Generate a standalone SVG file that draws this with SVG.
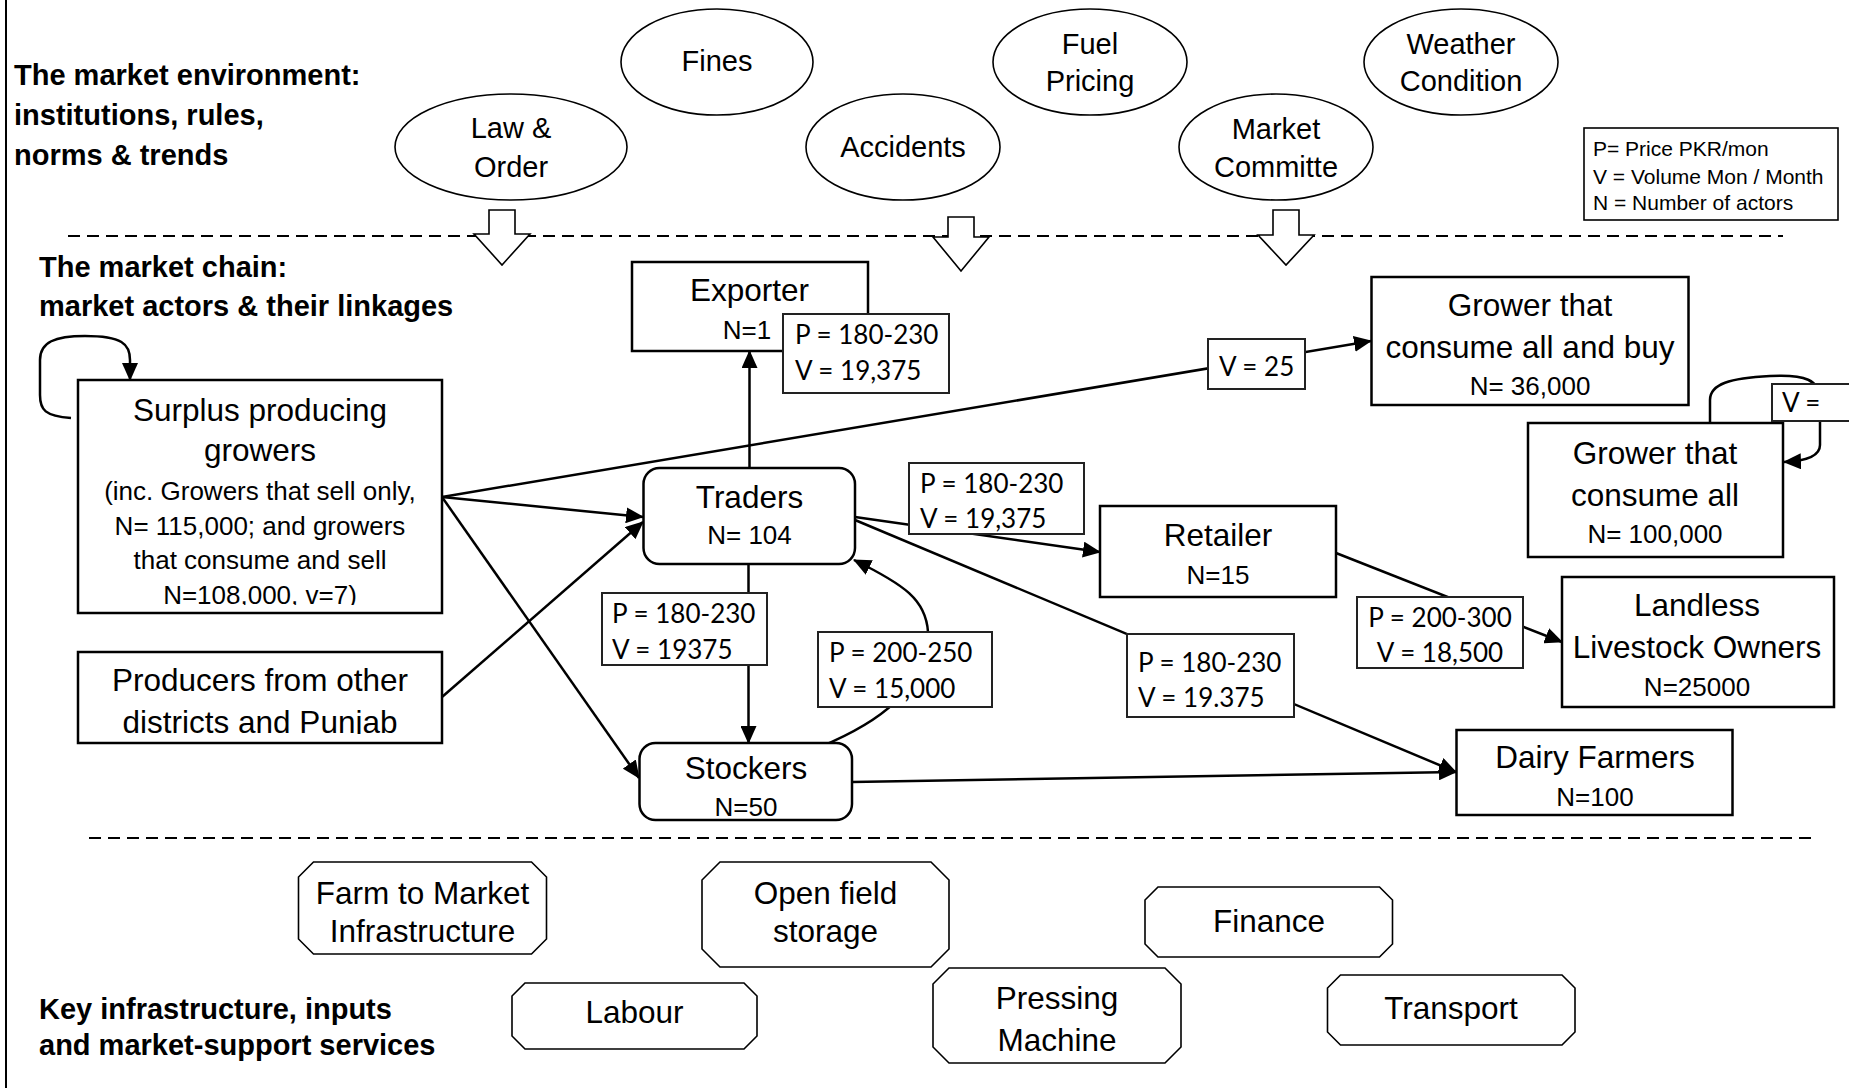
<svg xmlns="http://www.w3.org/2000/svg" width="1849" height="1088" viewBox="0 0 1849 1088">
<style>
text{font-family:"Liberation Sans",Arial,sans-serif;fill:#000}
.hd{font-weight:bold;font-size:29px}
.el{font-size:29px;text-anchor:middle}
.nm{font-size:31.5px;text-anchor:middle}
.ns{font-size:26px;text-anchor:middle}
.lb{font-family:Lato,"Liberation Sans",sans-serif;font-size:26px}
.lg{font-size:21px}
.sv{font-size:31.5px;text-anchor:middle}
.box{fill:#fff;stroke:#000;stroke-width:2.5}
.lab{fill:#fff;stroke:#222;stroke-width:2}
.ell{fill:#fff;stroke:#000;stroke-width:1.6}
.oct{fill:#fff;stroke:#000;stroke-width:1.6}
.blk{fill:#fff;stroke:#000;stroke-width:1.6}
.dash{stroke:#000;stroke-width:2;stroke-dasharray:12 7;fill:none}
.con{stroke:#000;stroke-width:2.5;fill:none;marker-end:url(#ah)}
.lin{stroke:#000;stroke-width:2.5;fill:none}
</style>
<defs>
<marker id="ah" markerUnits="userSpaceOnUse" markerWidth="18" markerHeight="16" refX="17" refY="8" orient="auto" viewBox="0 0 18 16"><path d="M0,0 L18,8 L0,16 z" fill="#000"/></marker>
<clipPath id="cS"><rect x="78" y="380" width="364" height="225"/></clipPath>
<clipPath id="cP"><rect x="78" y="652" width="364" height="82"/></clipPath>
</defs>
<rect x="0" y="0" width="1849" height="1088" fill="#fff"/>
<line x1="6" y1="0" x2="6" y2="1088" stroke="#000" stroke-width="2"/>

<g id="headings">
<text class="hd" x="14" y="85">The market environment:</text>
<text class="hd" x="14" y="125">institutions, rules,</text>
<text class="hd" x="14" y="165">norms &amp; trends</text>
<text class="hd" x="39" y="277">The market chain:</text>
<text class="hd" x="39" y="316">market actors &amp; their linkages</text>
<text class="hd" x="39" y="1019">Key infrastructure, inputs</text>
<text class="hd" x="39" y="1055">and market-support services</text>
</g>

<g id="dividers">
<line class="dash" x1="68" y1="236" x2="1783" y2="236"/>
<line class="dash" x1="89" y1="838" x2="1815" y2="838"/>
</g>

<g id="env">
<g id="law"><ellipse class="ell" cx="511" cy="147" rx="116" ry="53"/><text class="el" x="511" y="138">Law &amp;</text><text class="el" x="511" y="177">Order</text></g>
<g id="fines"><ellipse class="ell" cx="717" cy="62" rx="96" ry="53"/><text class="el" x="717" y="71">Fines</text></g>
<g id="accidents"><ellipse class="ell" cx="903" cy="147" rx="97" ry="53"/><text class="el" x="903" y="157">Accidents</text></g>
<g id="fuel"><ellipse class="ell" cx="1090" cy="62" rx="97" ry="53"/><text class="el" x="1090" y="54">Fuel</text><text class="el" x="1090" y="91">Pricing</text></g>
<g id="committe"><ellipse class="ell" cx="1276" cy="147" rx="97" ry="53"/><text class="el" x="1276" y="139">Market</text><text class="el" x="1276" y="177">Committe</text></g>
<g id="weather"><ellipse class="ell" cx="1461" cy="62" rx="97" ry="53"/><text class="el" x="1461" y="54">Weather</text><text class="el" x="1461" y="91">Condition</text></g>
</g>

<g id="influence-arrows">
<polygon class="blk" points="489,210 515,210 515,234 530,234 502,265 474,234 489,234"/>
<polygon class="blk" points="948,217 974,217 974,237 989,237 961,271 933,237 948,237"/>
<polygon class="blk" points="1273,210 1299,210 1299,235 1314,235 1286,265 1258,235 1273,235"/>
</g>

<g id="legend">
<rect x="1584" y="128" width="254" height="92" fill="#fff" stroke="#000" stroke-width="1.6"/>
<text class="lg" x="1593" y="156">P= Price PKR/mon</text>
<text class="lg" x="1593" y="184">V = Volume Mon / Month</text>
<text class="lg" x="1593" y="210">N = Number of actors</text>
</g>

<g id="connectors">
<line class="con" x1="442" y1="497" x2="643" y2="517"/>
<line class="con" x1="442" y1="497" x2="1371" y2="341"/>
<line class="con" x1="442" y1="497" x2="639" y2="778"/>
<line class="con" x1="442" y1="697" x2="643" y2="522"/>
<line class="con" x1="749.5" y1="468" x2="749.5" y2="351"/>
<line class="con" x1="748.5" y1="564" x2="748.5" y2="743"/>
<path class="lin" d="M820 747 C880 722 925 690 928 632"/>
<path class="con" d="M928 632 C926 600 905 585 854 560"/>
<line class="con" x1="855" y1="517" x2="1100" y2="552"/>
<line class="con" x1="855" y1="520" x2="1456" y2="772"/>
<line class="con" x1="852" y1="782" x2="1456" y2="772"/>
<line class="con" x1="1336" y1="553" x2="1562" y2="642"/>
<path class="con" d="M71 418 C45 416 40 410 40 395 L40 360 C40 342 55 336 85 336 C122 336 130 344 130 360 L130 380"/>
<path class="con" d="M1710 423 L1710 400 C1710 384 1730 378 1770 376 C1805 374 1820 380 1820 400 L1820 445 C1820 456 1808 461 1784 462"/>
</g>

<g id="surplus">
<rect class="box" x="78" y="380" width="364" height="233"/>
<text class="nm" x="260" y="421">Surplus producing</text>
<text class="nm" x="260" y="461">growers</text>
<g clip-path="url(#cS)">
<text class="ns" x="260" y="500">(inc. Growers that sell only,</text>
<text class="ns" x="260" y="534.5">N= 115,000; and growers</text>
<text class="ns" x="260" y="569">that consume and sell</text>
<text class="ns" x="260" y="604">N=108,000, v=7)</text>
</g>
</g>

<g id="producers">
<rect class="box" x="78" y="652" width="364" height="91"/>
<g clip-path="url(#cP)">
<text class="nm" x="260" y="691">Producers from other</text>
<text class="nm" x="260" y="733">districts and Punjab</text>
</g>
</g>

<g id="exporter">
<rect class="box" x="632" y="262" width="236" height="89"/>
<text class="nm" x="749.5" y="301">Exporter</text>
<text class="ns" x="747" y="339">N=1</text>
</g>

<g id="traders">
<rect class="box" x="643.5" y="468" width="211.5" height="96" rx="16"/>
<text class="nm" x="749.5" y="508">Traders</text>
<text class="ns" x="749.5" y="544">N= 104</text>
</g>

<g id="stockers">
<rect class="box" x="639.5" y="743" width="212.5" height="77" rx="16"/>
<text class="nm" x="746" y="779">Stockers</text>
<text class="ns" x="746" y="816">N=50</text>
</g>

<g id="retailer">
<rect class="box" x="1100" y="506" width="236" height="91"/>
<text class="nm" x="1218" y="546">Retailer</text>
<text class="ns" x="1218" y="584">N=15</text>
</g>

<g id="grower-buy">
<rect class="box" x="1371.5" y="277" width="317" height="128"/>
<text class="nm" x="1530" y="316">Grower that</text>
<text class="nm" x="1530" y="358">consume all and buy</text>
<text class="ns" x="1530" y="395">N= 36,000</text>
</g>

<g id="grower-all">
<rect class="box" x="1528" y="423" width="255" height="134"/>
<text class="nm" x="1655" y="464">Grower that</text>
<text class="nm" x="1655" y="506">consume all</text>
<text class="ns" x="1655" y="543">N= 100,000</text>
</g>

<g id="landless">
<rect class="box" x="1562" y="577" width="272" height="130"/>
<text class="nm" x="1697" y="616">Landless</text>
<text class="nm" x="1697" y="658">Livestock Owners</text>
<text class="ns" x="1697" y="696">N=25000</text>
</g>

<g id="dairy">
<rect class="box" x="1456.5" y="730" width="276" height="85"/>
<text class="nm" x="1595" y="768">Dairy Farmers</text>
<text class="ns" x="1595" y="806">N=100</text>
</g>

<g id="labels">
<g id="lab-exporter"><rect class="lab" x="783" y="314" width="166" height="79"/><text class="lb" x="795" y="343.5">P = 180-230</text><text class="lb" x="795" y="379.5">V = 19,375</text></g>
<g id="lab-stockers"><rect class="lab" x="602" y="593" width="165" height="72"/><text class="lb" x="612" y="622.5">P = 180-230</text><text class="lb" x="612" y="658.5">V = 19375</text></g>
<g id="lab-back"><rect class="lab" x="818" y="632" width="174" height="75"/><text class="lb" x="829" y="661.5">P = 200-250</text><text class="lb" x="829" y="697.5">V = 15,000</text></g>
<g id="lab-retailer"><rect class="lab" x="909" y="463" width="175" height="71"/><text class="lb" x="920" y="492.5">P = 180-230</text><text class="lb" x="920" y="527.5">V = 19,375</text></g>
<g id="lab-dairy"><rect class="lab" x="1127" y="634" width="167" height="83"/><text class="lb" x="1138" y="671.5">P = 180-230</text><text class="lb" x="1138" y="707">V = 19.375</text></g>
<g id="lab-landless"><rect class="lab" x="1357" y="597" width="166" height="71"/><text class="lb" x="1440" y="626.5" text-anchor="middle">P = 200-300</text><text class="lb" x="1440" y="661.5" text-anchor="middle">V = 18,500</text></g>
<g id="lab-v25"><rect class="lab" x="1208" y="339" width="97" height="50"/><text class="lb" x="1219" y="376">V = 25</text></g>
<g id="lab-v"><rect class="lab" x="1772" y="384" width="90" height="37"/><text class="lb" x="1782" y="412">V =</text></g>
</g>

<g id="services">
<g id="farm"><polygon class="oct" points="313.5,862 531.5,862 546.5,877 546.5,939 531.5,954 313.5,954 298.5,939 298.5,877"/><text class="sv" x="422.5" y="904">Farm to Market</text><text class="sv" x="422.5" y="942">Infrastructure</text></g>
<g id="storage"><polygon class="oct" points="720,862 931,862 949,880 949,949 931,967 720,967 702,949 702,880"/><text class="sv" x="825.5" y="904">Open field</text><text class="sv" x="825.5" y="942">storage</text></g>
<g id="finance"><polygon class="oct" points="1158,887 1379.5,887 1392.5,900 1392.5,944 1379.5,957 1158,957 1145,944 1145,900"/><text class="sv" x="1269" y="932">Finance</text></g>
<g id="labour"><polygon class="oct" points="525,983 744,983 757,996 757,1036 744,1049 525,1049 512,1036 512,996"/><text class="sv" x="634.5" y="1023">Labour</text></g>
<g id="pressing"><polygon class="oct" points="949,968 1165,968 1181,984 1181,1047 1165,1063 949,1063 933,1047 933,984"/><text class="sv" x="1057" y="1009">Pressing</text><text class="sv" x="1057" y="1051">Machine</text></g>
<g id="transport"><polygon class="oct" points="1340.5,975 1562,975 1575,988 1575,1032 1562,1045 1340.5,1045 1327.5,1032 1327.5,988"/><text class="sv" x="1451" y="1019">Transport</text></g>
</g>
</svg>
